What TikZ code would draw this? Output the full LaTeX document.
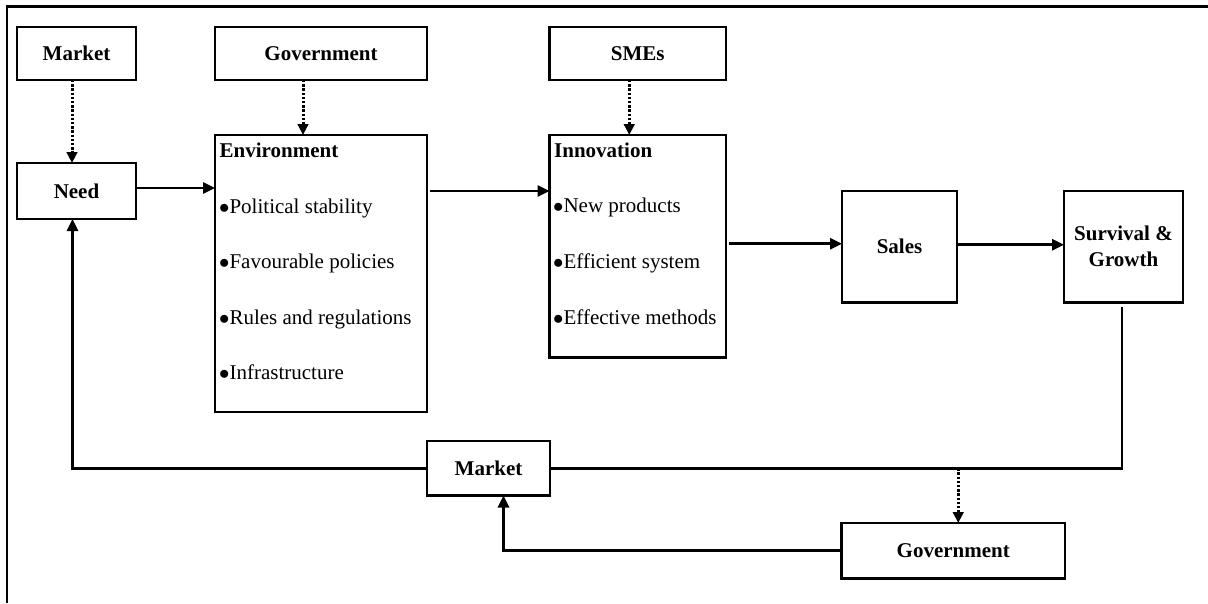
\documentclass[tikz,border=0pt]{standalone}
\usepackage{fontspec}
\setmainfont{Liberation Serif}
\usetikzlibrary{arrows.meta}
% list bullet for the item lines
\newcommand\itemdot{$\bullet$}
\begin{document}
\begin{tikzpicture}[x=1pt,y=-1pt,
  box/.style={draw, line width=2.2pt, inner sep=0pt, outer sep=0pt, anchor=north west,
              font=\bfseries\fontsize{21}{26}\selectfont, align=center},
  lbl/.style={anchor=base west, inner sep=0pt, font=\fontsize{21}{26}\selectfont},
  ttl/.style={lbl, font=\bfseries\fontsize{21}{26}\selectfont},
  link/.style={line width=2.7pt},
  flow/.style={link, -{Triangle[length=12pt,width=11pt]}},
  dotflow/.style={line width=3pt, dash pattern=on 2.4pt off 1.8pt,
                  -{Triangle[length=11pt,width=10.5pt]}}]
\useasboundingbox (0,0) rectangle (1208,603);

% outer frame (top and left edges)
\draw[line width=2.8pt] (7,603) -- (7,6.5) -- (1208,6.5);

% boxes
\node[box, minimum width=119pt, minimum height=53pt]   (mkt)  at (17,27)    {Market};
\node[box, minimum width=212pt, minimum height=53pt]   (gov)  at (215,27)   {Government};
\node[box, minimum width=176.5pt, minimum height=53pt] (sme)  at (549.5,27) {SMEs};
\node[box, minimum width=119pt, minimum height=56pt]   (need) at (17,163)   {Need};
\node[box, minimum width=212pt, minimum height=277pt]  (env)  at (215,135)  {};
\node[box, minimum width=176.5pt, minimum height=222.5pt] (inn) at (549.5,135) {};
\node[box, minimum width=115pt, minimum height=111.5pt] (sales) at (842,191) {Sales};
\node[box, minimum width=119pt, minimum height=111.5pt] (surv) at (1064,191) {Survival \&\\Growth};
\node[box, minimum width=123pt, minimum height=54.5pt]  (mktb) at (427,441)  {Market};
\node[box, minimum width=223.5pt, minimum height=55.5pt] (govb) at (841.5,523) {Government};

% contents of the environment box
\node[ttl] (envT) at ([xshift=4.5pt,yshift=-22pt]env.north west)  {Environment};
\node[lbl] (env1) at ([xshift=4pt,yshift=-78pt]env.north west)  {\itemdot Political stability};
\node[lbl] (env2) at ([xshift=4pt,yshift=-133pt]env.north west) {\itemdot Favourable policies};
\node[lbl] (env3) at ([xshift=4pt,yshift=-189pt]env.north west) {\itemdot Rules and regulations};
\node[lbl] (env4) at ([xshift=4pt,yshift=-244pt]env.north west) {\itemdot Infrastructure};

% contents of the innovation box
\node[ttl] (innT) at ([xshift=4.5pt,yshift=-22pt]inn.north west)  {Innovation};
\node[lbl] (inn1) at ([xshift=3.5pt,yshift=-77pt]inn.north west)    {\itemdot New products};
\node[lbl] (inn2) at ([xshift=3.5pt,yshift=-133pt]inn.north west)   {\itemdot Efficient system};
\node[lbl] (inn3) at ([xshift=3.5pt,yshift=-189pt]inn.north west)   {\itemdot Effective methods};

% influences from above
\draw[dotflow] ([xshift=-4.5pt]mkt.south) -- ([xshift=-4.5pt]mkt.south |- need.north);
\draw[dotflow] ([xshift=-18pt]gov.south) -- ([xshift=-18pt]gov.south |- env.north);
\draw[dotflow] ([xshift=-8.5pt]sme.south) -- ([xshift=-8.5pt]sme.south |- inn.north);

% main flow
\draw[flow] ([yshift=3pt]need.east) -- ([yshift=3pt]need.east -| env.west);
\draw[flow, shorten <=3pt] ([yshift=-56pt]env.north east) -- ([yshift=-56pt]env.north east -| inn.west);
\draw[flow, shorten <=3pt] ([yshift=3pt]sales.west -| inn.east) -- ([yshift=3pt]sales.west);
\draw[flow] ([yshift=2pt]sales.east) -- ([yshift=2pt]sales.east -| surv.west);

% feedback loop
\draw[link] ([xshift=-1.5pt,yshift=-4pt]surv.south) |- (mktb.east);
\draw[flow] (mktb.west) -| ([xshift=-4pt]need.south);
\draw[dotflow] ([xshift=5pt]govb.north |- mktb.east) -- ([xshift=5pt]govb.north);
\draw[flow] (govb.west) -| ([xshift=15pt]mktb.south);
\end{tikzpicture}
\end{document}
